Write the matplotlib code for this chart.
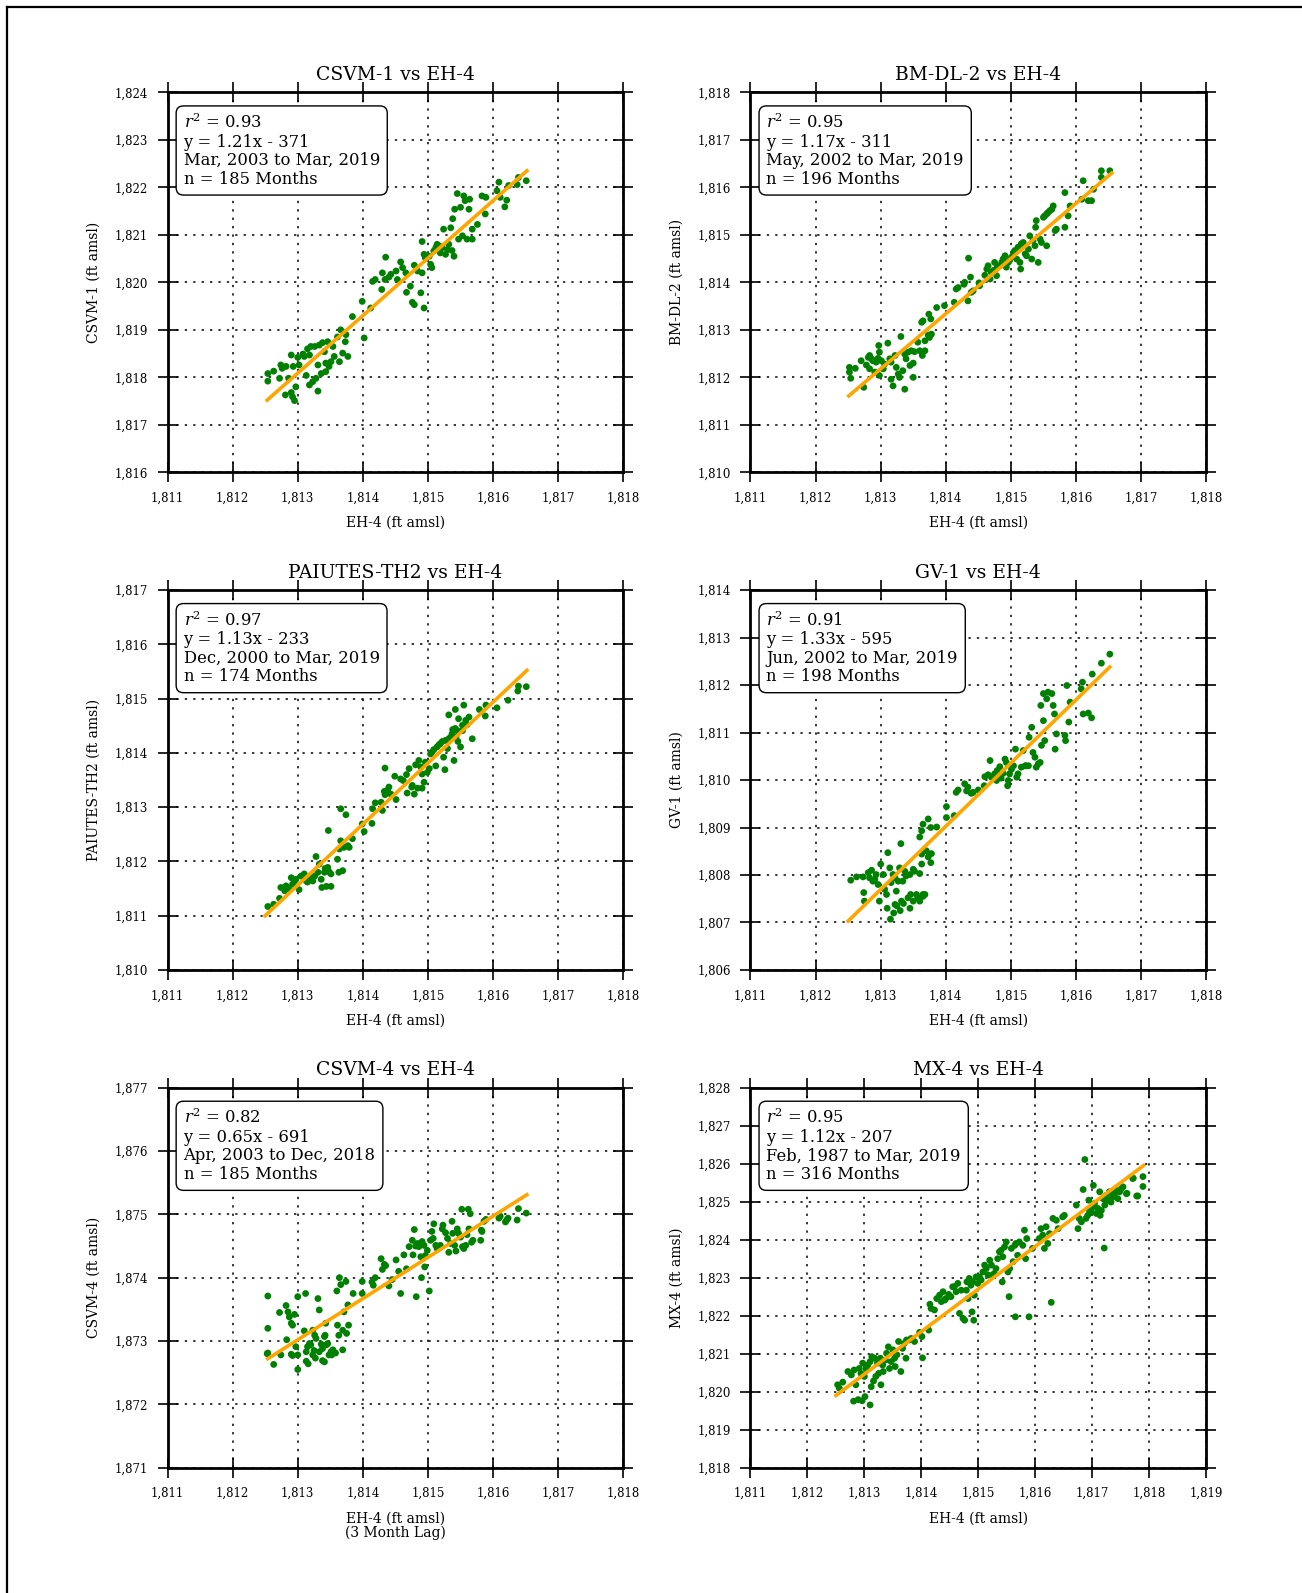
import matplotlib
matplotlib.use("Agg")
import matplotlib.pyplot as plt
from matplotlib.lines import Line2D
from matplotlib.ticker import StrMethodFormatter, MultipleLocator

plt.rcParams['font.family'] = ['DejaVu Serif']
plt.rcParams['mathtext.fontset'] = 'dejavuserif'

# ---- CSVM-1 vs EH-4 ----
csvm1_x = [1812.54, 1812.54, 1812.63, 1812.72, 1812.74, 1812.76, 1812.82, 1812.86, 1812.81, 1812.90,
           1812.92, 1812.95, 1812.97, 1812.90, 1812.93, 1813.00, 1813.02, 1813.08, 1813.10, 1813.13,
           1813.15, 1813.18, 1813.20, 1813.18, 1813.23, 1813.26, 1813.28, 1813.31, 1813.33, 1813.31,
           1813.36, 1813.38, 1813.41, 1813.43, 1813.43, 1813.46, 1813.48, 1813.51, 1813.54, 1813.56,
           1813.61, 1813.64, 1813.66, 1813.69, 1813.74, 1813.73, 1813.77, 1813.84, 1813.99, 1814.02,
           1814.12, 1814.15, 1814.19, 1814.29, 1814.30, 1814.35, 1814.34, 1814.40, 1814.43, 1814.51,
           1814.53, 1814.58, 1814.61, 1814.66, 1814.67, 1814.73, 1814.79, 1814.76, 1814.79, 1814.84,
           1814.89, 1814.91, 1814.91, 1814.94, 1814.94, 1814.96, 1815.02, 1815.04, 1815.06, 1815.09,
           1815.12, 1815.14, 1815.17, 1815.19, 1815.22, 1815.24, 1815.27, 1815.30, 1815.32, 1815.35,
           1815.37, 1815.40, 1815.38, 1815.41, 1815.45, 1815.47, 1815.50, 1815.53, 1815.55, 1815.57,
           1815.60, 1815.63, 1815.64, 1815.68, 1815.68, 1815.76, 1815.83, 1815.88, 1815.89, 1816.06,
           1816.09, 1816.11, 1816.18, 1816.21, 1816.24, 1816.37, 1816.39, 1816.51]
csvm1_y = [1818.08, 1817.92, 1818.13, 1817.98, 1818.26, 1818.19, 1818.23, 1817.98, 1817.63, 1817.68,
           1817.59, 1817.51, 1817.80, 1818.47, 1818.23, 1818.42, 1818.26, 1818.49, 1818.44, 1818.04,
           1818.60, 1818.47, 1818.65, 1817.84, 1817.91, 1818.65, 1817.98, 1818.26, 1818.68, 1817.71,
           1818.08, 1818.73, 1818.54, 1818.30, 1818.12, 1818.75, 1818.23, 1818.33, 1818.65, 1818.44,
           1818.85, 1818.33, 1819.00, 1818.51, 1818.90, 1818.75, 1818.44, 1819.28, 1819.60, 1818.83,
           1819.46, 1820.02, 1820.06, 1819.85, 1820.20, 1820.53, 1820.06, 1820.11, 1820.17, 1820.24,
           1820.06, 1820.43, 1820.31, 1820.20, 1819.79, 1819.92, 1820.36, 1819.58, 1819.53, 1820.24,
           1819.78, 1820.20, 1820.86, 1820.59, 1819.46, 1820.52, 1820.55, 1820.38, 1820.31, 1820.66,
           1820.73, 1820.80, 1820.77, 1820.62, 1820.73, 1821.12, 1820.59, 1820.69, 1820.80, 1821.15,
           1820.67, 1820.55, 1821.34, 1821.54, 1821.87, 1820.91, 1821.58, 1820.98, 1821.82, 1821.72,
           1820.91, 1821.54, 1821.75, 1820.91, 1821.12, 1821.22, 1821.82, 1821.44, 1821.79, 1821.93,
           1822.11, 1821.79, 1821.59, 1821.73, 1822.04, 1822.06, 1822.21, 1822.14]
csvm1_fit_x = [1812.53, 1816.52]
csvm1_fit_y = [1817.52, 1822.35]

# ---- BM-DL-2 vs EH-4 ----
bmdl2_x = [1812.52, 1812.52, 1812.54, 1812.61, 1812.70, 1812.74, 1812.78, 1812.81, 1812.83, 1812.86,
           1812.83, 1812.88, 1812.91, 1812.93, 1812.96, 1812.97, 1812.98, 1813.01, 1812.98, 1813.04,
           1813.06, 1813.11, 1813.14, 1813.16, 1813.19, 1813.16, 1813.22, 1813.24, 1813.27, 1813.29,
           1813.31, 1813.34, 1813.37, 1813.37, 1813.39, 1813.42, 1813.45, 1813.47, 1813.50, 1813.50,
           1813.52, 1813.57, 1813.60, 1813.63, 1813.64, 1813.65, 1813.68, 1813.68, 1813.73, 1813.74,
           1813.77, 1813.75, 1813.78, 1813.86, 1813.98, 1814.13, 1814.16, 1814.19, 1814.28, 1814.29,
           1814.34, 1814.35, 1814.38, 1814.39, 1814.42, 1814.51, 1814.52, 1814.60, 1814.63, 1814.65,
           1814.68, 1814.70, 1814.73, 1814.75, 1814.78, 1814.79, 1814.83, 1814.86, 1814.88, 1814.91,
           1814.93, 1814.96, 1814.98, 1815.01, 1815.04, 1815.06, 1815.09, 1815.11, 1815.14, 1815.15,
           1815.16, 1815.19, 1815.22, 1815.24, 1815.27, 1815.29, 1815.32, 1815.34, 1815.37, 1815.38,
           1815.39, 1815.42, 1815.45, 1815.47, 1815.50, 1815.52, 1815.55, 1815.55, 1815.57, 1815.60,
           1815.63, 1815.65, 1815.68, 1815.70, 1815.83, 1815.83, 1815.88, 1815.91, 1816.09, 1816.11,
           1816.19, 1816.24, 1816.27, 1816.39, 1816.39, 1816.52]
bmdl2_y = [1812.21, 1812.11, 1811.98, 1812.19, 1812.35, 1811.79, 1812.26, 1812.42, 1812.46, 1812.39,
           1812.18, 1812.35, 1812.11, 1812.32, 1812.40, 1812.67, 1812.53, 1812.35, 1812.04, 1812.18,
           1812.28, 1812.72, 1812.39, 1811.96, 1811.82, 1812.32, 1812.46, 1812.21, 1812.07, 1812.00,
           1812.86, 1812.14, 1811.75, 1812.49, 1812.39, 1812.53, 1812.25, 1812.56, 1812.30, 1812.00,
           1812.54, 1812.74, 1812.56, 1813.16, 1812.46, 1813.19, 1812.56, 1812.77, 1812.89, 1813.33,
           1813.23, 1812.84, 1812.91, 1813.47, 1813.51, 1813.58, 1813.86, 1813.89, 1813.96, 1814.00,
           1813.61, 1814.51, 1814.11, 1813.79, 1813.82, 1813.99, 1813.93, 1814.15, 1814.28, 1814.35,
           1814.07, 1814.21, 1814.25, 1814.42, 1814.14, 1814.32, 1814.35, 1814.42, 1814.49, 1814.56,
           1814.32, 1814.42, 1814.46, 1814.53, 1814.63, 1814.67, 1814.49, 1814.74, 1814.42, 1814.28,
           1814.81, 1814.84, 1814.60, 1814.56, 1814.70, 1814.98, 1814.49, 1814.88, 1814.77, 1815.16,
           1815.30, 1814.42, 1814.91, 1814.84, 1815.37, 1815.40, 1814.77, 1815.44, 1815.47, 1815.51,
           1815.54, 1815.61, 1815.09, 1815.12, 1815.16, 1815.89, 1815.40, 1815.61, 1815.75, 1816.14,
           1815.72, 1815.72, 1815.96, 1816.35, 1816.21, 1816.35]
bmdl2_fit_x = [1812.51, 1816.55]
bmdl2_fit_y = [1811.61, 1816.30]

# ---- PAIUTES-TH2 vs EH-4 ----
paiutes_x = [1812.54, 1812.63, 1812.72, 1812.74, 1812.80, 1812.82, 1812.86, 1812.90, 1812.92, 1812.95,
             1812.97, 1813.02, 1813.05, 1813.10, 1813.13, 1813.15, 1813.18, 1813.20, 1813.23, 1813.26,
             1813.28, 1813.31, 1813.33, 1813.36, 1813.37, 1813.41, 1813.42, 1813.44, 1813.46, 1813.48,
             1813.51, 1813.51, 1813.47, 1813.61, 1813.63, 1813.66, 1813.69, 1813.64, 1813.66, 1813.71,
             1813.74, 1813.77, 1813.79, 1813.84, 1813.99, 1814.02, 1814.14, 1814.15, 1814.19, 1814.28,
             1814.30, 1814.33, 1814.34, 1814.38, 1814.40, 1814.43, 1814.34, 1814.51, 1814.49, 1814.58,
             1814.62, 1814.67, 1814.68, 1814.71, 1814.75, 1814.76, 1814.79, 1814.81, 1814.84, 1814.86,
             1814.89, 1814.91, 1814.94, 1814.91, 1814.96, 1814.99, 1815.02, 1815.04, 1815.06, 1815.09,
             1815.12, 1815.14, 1815.17, 1815.19, 1815.22, 1815.24, 1815.26, 1815.27, 1815.30, 1815.32,
             1815.35, 1815.37, 1815.38, 1815.40, 1815.42, 1815.43, 1815.45, 1815.46, 1815.47, 1815.50,
             1815.53, 1815.53, 1815.55, 1815.58, 1815.60, 1815.63, 1815.68, 1815.79, 1815.88, 1815.89,
             1816.06, 1816.23, 1816.38, 1816.39, 1816.51, 1815.32, 1815.42]
paiutes_y = [1811.17, 1811.21, 1811.32, 1811.52, 1811.46, 1811.55, 1811.50, 1811.70, 1811.58, 1811.64,
             1811.67, 1811.48, 1811.73, 1811.77, 1811.64, 1811.62, 1811.67, 1811.70, 1811.64, 1811.73,
             1812.09, 1811.80, 1811.95, 1811.67, 1811.52, 1811.80, 1811.87, 1811.54, 1811.89, 1811.81,
             1811.54, 1811.77, 1812.57, 1812.04, 1811.80, 1812.97, 1811.83, 1812.23, 1812.38, 1812.26,
             1812.86, 1812.29, 1812.26, 1812.42, 1812.69, 1812.55, 1812.70, 1812.97, 1813.08, 1813.09,
             1812.94, 1813.29, 1813.23, 1813.31, 1813.37, 1813.24, 1813.72, 1813.14, 1813.57, 1813.52,
             1813.49, 1813.60, 1813.26, 1813.71, 1813.37, 1813.40, 1813.24, 1813.78, 1813.35, 1813.86,
             1813.74, 1813.35, 1813.46, 1813.61, 1813.83, 1813.64, 1813.71, 1813.98, 1814.01, 1814.06,
             1813.76, 1814.11, 1814.15, 1814.17, 1814.21, 1813.92, 1813.69, 1814.23, 1814.08, 1814.26,
             1814.29, 1814.35, 1814.43, 1813.86, 1814.45, 1814.29, 1814.41, 1814.21, 1814.63, 1814.11,
             1814.41, 1814.51, 1814.88, 1814.60, 1814.52, 1814.66, 1814.26, 1814.80, 1814.68, 1814.88,
             1814.83, 1814.97, 1815.14, 1815.23, 1815.22, 1814.70, 1814.80]
paiutes_fit_x = [1812.50, 1816.52]
paiutes_fit_y = [1811.00, 1815.52]

# ---- GV-1 vs EH-4 ----
gv1_x = [1812.54, 1812.63, 1812.73, 1812.74, 1812.75, 1812.81, 1812.83, 1812.86, 1812.88, 1812.91,
         1812.93, 1812.96, 1812.98, 1813.00, 1813.04, 1813.06, 1813.09, 1813.11, 1813.14, 1813.16,
         1813.19, 1813.22, 1813.22, 1813.24, 1813.27, 1813.29, 1813.31, 1813.32, 1813.34, 1813.37,
         1813.39, 1813.42, 1813.45, 1813.46, 1813.50, 1813.50, 1813.52, 1813.55, 1813.57, 1813.60,
         1813.63, 1813.63, 1813.65, 1813.68, 1813.70, 1813.73, 1813.75, 1813.77, 1813.78, 1813.60,
         1813.63, 1813.65, 1813.73, 1813.77, 1813.86, 1814.01, 1814.01, 1814.13, 1814.16, 1814.19,
         1814.29, 1814.32, 1814.34, 1814.39, 1814.42, 1814.50, 1814.59, 1814.60, 1814.65, 1814.68,
         1814.70, 1814.75, 1814.78, 1814.79, 1814.83, 1814.85, 1814.88, 1814.91, 1814.93, 1814.95,
         1814.96, 1814.98, 1815.01, 1815.04, 1815.07, 1815.09, 1815.11, 1815.16, 1815.19, 1815.22,
         1815.23, 1815.27, 1815.28, 1815.32, 1815.34, 1815.37, 1815.39, 1815.42, 1815.45, 1815.46,
         1815.47, 1815.50, 1815.50, 1815.52, 1815.55, 1815.57, 1815.63, 1815.65, 1815.67, 1815.68,
         1815.70, 1815.83, 1815.84, 1815.86, 1815.89, 1815.91, 1816.08, 1816.11, 1816.10, 1816.19,
         1816.24, 1816.25, 1816.39, 1816.52, 1813.15, 1813.20, 1813.30, 1813.10, 1813.45, 1813.60,
         1813.65, 1813.35, 1813.25]
gv1_y = [1807.89, 1807.96, 1807.96, 1807.63, 1807.45, 1808.05, 1807.94, 1808.10, 1807.87, 1807.91,
         1808.01, 1807.80, 1807.45, 1808.23, 1808.01, 1807.70, 1807.59, 1808.47, 1808.15, 1807.84,
         1808.01, 1807.94, 1807.38, 1807.66, 1807.87, 1808.15, 1808.66, 1807.45, 1807.87, 1808.08,
         1807.98, 1807.52, 1808.01, 1807.59, 1808.12, 1807.45, 1808.08, 1807.59, 1807.52, 1808.03,
         1808.23, 1808.44, 1807.59, 1807.59, 1808.51, 1808.38, 1808.44, 1808.26, 1808.45, 1808.80,
         1808.93, 1809.07, 1809.18, 1809.00, 1809.01, 1809.44, 1809.21, 1809.25, 1809.74, 1809.79,
         1809.92, 1809.77, 1809.85, 1809.72, 1809.74, 1809.79, 1809.88, 1810.07, 1810.11, 1810.41,
         1810.06, 1810.13, 1809.99, 1810.20, 1810.28, 1810.04, 1810.14, 1810.44, 1810.37, 1809.88,
         1809.99, 1810.13, 1810.23, 1810.30, 1810.65, 1810.06, 1810.13, 1810.27, 1810.62, 1810.30,
         1810.30, 1810.30, 1810.90, 1811.11, 1810.58, 1810.48, 1810.27, 1810.34, 1810.37, 1811.57,
         1810.73, 1811.82, 1811.25, 1810.83, 1811.71, 1811.85, 1811.82, 1811.57, 1811.39, 1810.65,
         1810.97, 1810.94, 1810.83, 1811.99, 1811.22, 1811.64, 1811.92, 1811.39, 1812.06, 1811.41,
         1811.31, 1812.23, 1812.46, 1812.65, 1807.07, 1807.20, 1807.25, 1807.30, 1807.30, 1807.45,
         1807.55, 1807.40, 1807.35]
gv1_fit_x = [1812.50, 1816.52]
gv1_fit_y = [1807.03, 1812.38]

# ---- CSVM-4 vs EH-4 (3 month lag) ----
csvm4_x = [1812.54, 1812.54, 1812.54, 1812.72, 1812.74, 1812.82, 1812.83, 1812.85, 1812.87, 1812.90,
           1812.92, 1812.95, 1812.90, 1812.97, 1813.00, 1813.00, 1813.10, 1813.12, 1813.13, 1813.15,
           1813.18, 1813.20, 1813.23, 1813.23, 1813.26, 1813.28, 1813.31, 1813.33, 1813.33, 1813.36,
           1813.38, 1813.41, 1813.42, 1813.43, 1813.44, 1813.46, 1813.48, 1813.51, 1813.54, 1813.60,
           1813.61, 1813.63, 1813.64, 1813.66, 1813.69, 1813.71, 1813.74, 1813.75, 1813.77, 1813.78,
           1813.85, 1813.99, 1813.99, 1814.14, 1814.16, 1814.19, 1814.28, 1814.30, 1814.33, 1814.35,
           1814.40, 1814.45, 1814.51, 1814.55, 1814.58, 1814.63, 1814.67, 1814.71, 1814.76, 1814.77,
           1814.79, 1814.81, 1814.82, 1814.84, 1814.86, 1814.89, 1814.90, 1814.91, 1814.94, 1814.95,
           1814.96, 1814.99, 1815.02, 1815.04, 1815.06, 1815.08, 1815.09, 1815.12, 1815.14, 1815.19,
           1815.22, 1815.23, 1815.27, 1815.30, 1815.32, 1815.35, 1815.37, 1815.38, 1815.41, 1815.43,
           1815.45, 1815.47, 1815.50, 1815.52, 1815.53, 1815.55, 1815.58, 1815.60, 1815.62, 1815.63,
           1815.65, 1815.67, 1815.69, 1815.81, 1815.82, 1815.83, 1815.86, 1815.89, 1816.09, 1816.11,
           1816.19, 1816.21, 1816.23, 1816.37, 1816.39, 1816.51, 1812.63, 1813.00, 1813.13, 1813.16,
           1813.25, 1813.38, 1813.41, 1813.52, 1813.58, 1813.69, 1812.53, 1812.92, 1813.27]
csvm4_y = [1873.71, 1873.20, 1872.81, 1873.45, 1872.78, 1873.56, 1873.02, 1873.46, 1873.38, 1873.28,
           1873.25, 1873.42, 1872.79, 1872.91, 1873.70, 1872.78, 1873.16, 1873.75, 1872.83, 1872.91,
           1872.96, 1872.94, 1873.17, 1872.78, 1873.09, 1873.04, 1873.67, 1873.49, 1872.83, 1872.95,
           1872.88, 1873.07, 1873.09, 1873.28, 1872.94, 1872.96, 1872.78, 1872.83, 1872.86, 1873.79,
           1873.25, 1873.09, 1874.00, 1873.89, 1873.17, 1873.46, 1873.94, 1873.12, 1873.57, 1873.25,
           1873.75, 1873.94, 1873.75, 1873.93, 1873.88, 1874.00, 1874.30, 1874.13, 1874.21, 1874.19,
           1873.87, 1873.97, 1874.28, 1874.10, 1873.75, 1874.36, 1874.14, 1874.49, 1874.59, 1874.36,
           1874.76, 1874.50, 1873.70, 1874.54, 1874.49, 1874.33, 1874.00, 1874.57, 1874.51, 1874.17,
           1874.35, 1874.43, 1873.79, 1874.59, 1874.73, 1874.62, 1874.85, 1874.51, 1874.46, 1874.51,
           1874.77, 1874.83, 1874.71, 1874.62, 1874.40, 1874.54, 1874.89, 1874.70, 1874.51, 1874.42,
           1874.77, 1874.70, 1874.64, 1875.08, 1874.49, 1874.46, 1874.51, 1874.68, 1875.08, 1874.77,
           1875.01, 1874.56, 1874.59, 1874.59, 1874.75, 1874.73, 1874.89, 1874.92, 1874.94, 1874.97,
           1874.88, 1874.91, 1874.94, 1874.91, 1875.09, 1875.02, 1872.63, 1872.55, 1872.68, 1872.64,
           1872.85, 1872.69, 1872.67, 1872.78, 1872.81, 1872.86, 1872.80, 1872.77, 1872.73]
csvm4_fit_x = [1812.54, 1816.52]
csvm4_fit_y = [1872.72, 1875.31]

# ---- MX-4 vs EH-4 ----
mx4_x = [1812.53, 1812.56, 1812.62, 1812.71, 1812.77, 1812.82, 1812.85, 1812.91, 1812.94, 1812.97,
         1813.00, 1813.03, 1813.06, 1813.10, 1813.12, 1813.13, 1813.16, 1813.18, 1813.20, 1813.23,
         1813.25, 1813.28, 1813.29, 1813.32, 1813.33, 1813.37, 1813.39, 1813.42, 1813.44, 1813.47,
         1813.50, 1813.53, 1813.54, 1813.57, 1813.60, 1813.64, 1813.67, 1813.70, 1813.73, 1813.74,
         1813.79, 1813.82, 1813.88, 1813.97, 1814.01, 1814.02, 1814.13, 1814.15, 1814.17, 1814.23,
         1814.27, 1814.32, 1814.35, 1814.38, 1814.41, 1814.43, 1814.48, 1814.52, 1814.55, 1814.58,
         1814.61, 1814.64, 1814.67, 1814.70, 1814.73, 1814.76, 1814.79, 1814.80, 1814.82, 1814.84,
         1814.87, 1814.89, 1814.90, 1814.92, 1814.93, 1814.96, 1814.99, 1815.02, 1815.05, 1815.08,
         1815.11, 1815.14, 1815.17, 1815.20, 1815.23, 1815.25, 1815.28, 1815.31, 1815.34, 1815.37,
         1815.40, 1815.42, 1815.43, 1815.46, 1815.49, 1815.52, 1815.54, 1815.55, 1815.58, 1815.61,
         1815.64, 1815.65, 1815.66, 1815.69, 1815.72, 1815.78, 1815.81, 1815.83, 1815.85, 1815.89,
         1815.95, 1816.07, 1816.10, 1816.13, 1816.16, 1816.19, 1816.22, 1816.25, 1816.28, 1816.31,
         1816.37, 1816.40, 1816.48, 1816.51, 1816.72, 1816.75, 1816.77, 1816.81, 1816.84, 1816.87,
         1816.89, 1816.92, 1816.94, 1816.95, 1816.98, 1817.01, 1817.02, 1817.04, 1817.07, 1817.10,
         1817.13, 1817.14, 1817.16, 1817.19, 1817.21, 1817.22, 1817.25, 1817.28, 1817.30, 1817.33,
         1817.36, 1817.39, 1817.42, 1817.45, 1817.48, 1817.51, 1817.54, 1817.60, 1817.71, 1817.78,
         1817.72, 1817.80, 1817.89, 1817.89, 1817.61, 1812.81, 1812.89, 1812.96, 1813.01, 1813.10]
mx4_y = [1820.18, 1820.09, 1820.25, 1820.53, 1820.44, 1820.57, 1820.18, 1820.61, 1820.48, 1820.75,
         1820.40, 1820.60, 1820.70, 1820.79, 1820.13, 1820.92, 1820.28, 1820.88, 1820.40, 1820.75,
         1820.48, 1820.88, 1820.18, 1820.70, 1820.53, 1820.83, 1821.01, 1821.18, 1820.61, 1820.79,
         1821.10, 1820.88, 1820.66, 1820.97, 1821.32, 1820.53, 1821.14, 1821.27, 1820.88, 1821.36,
         1821.36, 1821.40, 1821.32, 1821.56, 1821.45, 1820.89, 1821.62, 1822.30, 1822.19, 1822.15,
         1822.45, 1822.54, 1822.37, 1822.63, 1822.41, 1822.45, 1822.56, 1822.50, 1822.76, 1822.76,
         1822.63, 1822.85, 1822.06, 1822.67, 1821.93, 1821.88, 1822.67, 1822.89, 1822.45, 1822.98,
         1822.80, 1822.10, 1822.89, 1821.88, 1822.54, 1823.02, 1822.85, 1823.02, 1822.94, 1823.15,
         1823.33, 1823.24, 1823.07, 1823.46, 1823.33, 1823.07, 1823.11, 1823.24, 1823.50, 1823.68,
         1823.72, 1822.89, 1823.55, 1823.81, 1823.94, 1823.15, 1822.50, 1823.24, 1823.77, 1823.42,
         1823.85, 1821.97, 1823.90, 1823.59, 1823.94, 1823.85, 1824.25, 1823.50, 1824.03, 1821.97,
         1823.77, 1824.03, 1824.29, 1824.12, 1823.77, 1824.34, 1823.90, 1824.16, 1822.35, 1824.56,
         1824.51, 1824.29, 1824.60, 1824.64, 1824.91, 1824.29, 1824.56, 1824.47, 1825.32, 1826.11,
         1824.56, 1824.64, 1825.04, 1824.77, 1824.73, 1824.86, 1825.43, 1824.95, 1824.69, 1824.82,
         1825.26, 1824.64, 1824.77, 1825.08, 1823.78, 1824.91, 1825.17, 1825.04, 1825.26, 1824.99,
         1825.12, 1825.21, 1825.30, 1825.08, 1825.26, 1825.34, 1825.39, 1825.21, 1825.61, 1825.15,
         1825.62, 1825.15, 1825.66, 1825.40, 1825.22, 1819.75, 1819.79, 1819.76, 1819.87, 1819.65]
mx4_fit_x = [1812.50, 1817.90]
mx4_fit_y = [1819.90, 1825.95]

panels = [
    dict(x=csvm1_x, y=csvm1_y, fx=csvm1_fit_x, fy=csvm1_fit_y, title="CSVM-1 vs EH-4",
         ylabel="CSVM-1 (ft amsl)", xlabel="EH-4 (ft amsl)", xlim=(1811, 1818), ylim=(1816, 1824),
         note="$r^2$ = 0.93\ny = 1.21x - 371\nMar, 2003 to Mar, 2019\nn = 185 Months"),
    dict(x=bmdl2_x, y=bmdl2_y, fx=bmdl2_fit_x, fy=bmdl2_fit_y, title="BM-DL-2 vs EH-4",
         ylabel="BM-DL-2 (ft amsl)", xlabel="EH-4 (ft amsl)", xlim=(1811, 1818), ylim=(1810, 1818),
         note="$r^2$ = 0.95\ny = 1.17x - 311\nMay, 2002 to Mar, 2019\nn = 196 Months"),
    dict(x=paiutes_x, y=paiutes_y, fx=paiutes_fit_x, fy=paiutes_fit_y, title="PAIUTES-TH2 vs EH-4",
         ylabel="PAIUTES-TH2 (ft amsl)", xlabel="EH-4 (ft amsl)", xlim=(1811, 1818), ylim=(1810, 1817),
         note="$r^2$ = 0.97\ny = 1.13x - 233\nDec, 2000 to Mar, 2019\nn = 174 Months"),
    dict(x=gv1_x, y=gv1_y, fx=gv1_fit_x, fy=gv1_fit_y, title="GV-1 vs EH-4",
         ylabel="GV-1 (ft amsl)", xlabel="EH-4 (ft amsl)", xlim=(1811, 1818), ylim=(1806, 1814),
         note="$r^2$ = 0.91\ny = 1.33x - 595\nJun, 2002 to Mar, 2019\nn = 198 Months"),
    dict(x=csvm4_x, y=csvm4_y, fx=csvm4_fit_x, fy=csvm4_fit_y, title="CSVM-4 vs EH-4",
         ylabel="CSVM-4 (ft amsl)", xlabel="EH-4 (ft amsl)\n(3 Month Lag)", xlim=(1811, 1818),
         ylim=(1871, 1877),
         note="$r^2$ = 0.82\ny = 0.65x - 691\nApr, 2003 to Dec, 2018\nn = 185 Months"),
    dict(x=mx4_x, y=mx4_y, fx=mx4_fit_x, fy=mx4_fit_y, title="MX-4 vs EH-4",
         ylabel="MX-4 (ft amsl)", xlabel="EH-4 (ft amsl)", xlim=(1811, 1819), ylim=(1818, 1828),
         note="$r^2$ = 0.95\ny = 1.12x - 207\nFeb, 1987 to Mar, 2019\nn = 316 Months"),
]

W, H = 1302, 1593
fig = plt.figure(figsize=(W / 100, H / 100), dpi=100)

lefts = [0.1287, 0.5764]
bottoms = [0.7035, 0.3911, 0.0787]
aw, ah = 0.3500, 0.2385

for i, p in enumerate(panels):
    ax = fig.add_axes([lefts[i % 2], bottoms[i // 2], aw, ah])
    ax.scatter(p["x"], p["y"], s=24, color="#008000", edgecolors="none", zorder=3)
    ax.plot(p["fx"], p["fy"], color="#FFA500", lw=2.6, zorder=4)
    ax.set_xlim(*p["xlim"])
    ax.set_ylim(*p["ylim"])
    ax.xaxis.set_major_locator(MultipleLocator(1))
    ax.yaxis.set_major_locator(MultipleLocator(1))
    ax.xaxis.set_major_formatter(StrMethodFormatter("{x:,.0f}"))
    ax.yaxis.set_major_formatter(StrMethodFormatter("{x:,.0f}"))
    ax.grid(True, color="black", linestyle=(0, (1.5, 4)), linewidth=1.1)
    ax.set_axisbelow(True)
    ax.tick_params(direction="inout", length=14, width=1.2, labelsize=8.5, pad=7,
                   top=True, right=True)
    for sp in ax.spines.values():
        sp.set_linewidth(2.0)
    ax.set_title(p["title"], fontsize=13.5, pad=9)
    ax.set_xlabel(p["xlabel"], fontsize=10, labelpad=8, linespacing=1.0)
    ax.set_ylabel(p["ylabel"], fontsize=10, labelpad=10)
    ax.text(0.035, 0.945, p["note"], transform=ax.transAxes, ha="left", va="top",
            fontsize=11.8, linespacing=1.12, zorder=5,
            bbox=dict(boxstyle="round,pad=0.45", facecolor="white", edgecolor="black", lw=1.0))

# page frame (top and left edges visible in the crop)
fig.add_artist(Line2D([7 / W, 1.0], [1 - 7 / H, 1 - 7 / H], color="black", lw=1.6,
                      transform=fig.transFigure))
fig.add_artist(Line2D([7 / W, 7 / W], [0.0, 1 - 7 / H], color="black", lw=1.6,
                      transform=fig.transFigure))

fig.savefig("out.png", dpi=100)
